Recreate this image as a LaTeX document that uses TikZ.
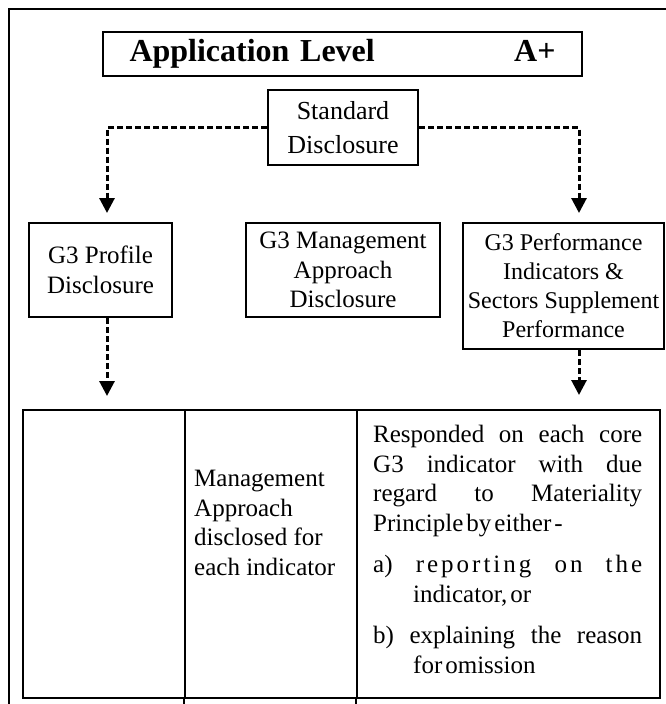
\documentclass[tikz,border=0pt]{standalone}
\usepackage{fontspec}
\setmainfont{Liberation Serif}
\usetikzlibrary{arrows.meta}
\newcommand\titlefnt{\fontsize{32}{36}\selectfont\bfseries}
\newcommand\boxfnt{\fontsize{25}{29.5}\selectfont}
\newcommand\stdfnt{\fontsize{26}{34}\selectfont}
\newcommand\perffnt{\fontsize{24}{29}\selectfont}
\newcommand\tabfnt{\fontsize{25}{29.5}\selectfont}
\newcommand\lsp[1]{{\addfontfeature{LetterSpace=12}#1}}
\tikzset{
  box/.style={draw, line width=2pt, inner sep=0pt, align=center},
  cell/.style={draw, line width=2pt, inner sep=0pt},
  frame/.style={line width=2pt},
  dashconn/.style={line width=3pt, dash pattern=on 6pt off 3pt,
    -{Triangle[width=15pt,length=15pt]}},
  celltext/.style={anchor=north west, inner sep=0pt, align=left, font=\tabfnt},
}
\begin{document}
\begin{tikzpicture}[x=1pt,y=-1pt]
\useasboundingbox (0,0) rectangle (665,704);
% outer frame (cropped at right and bottom)
\draw[frame] (9,710) -- (9,9) -- (670,9);

\node[box, line width=2.5pt, minimum width=479pt, minimum height=44pt,
      text width=426pt, align=left, font=\titlefnt] (title) at (342.5,54)
      {Application Level\hfill A+};

\node[box, minimum width=150pt, minimum height=75pt, font=\stdfnt] (std) at (343,127.5)
      {Standard\\Disclosure};

\node[box, minimum width=143pt, minimum height=94pt, font=\boxfnt] (prof) at (100.5,270)
      {G3 Profile\\Disclosure};
\node[box, minimum width=194pt, minimum height=94pt, font=\boxfnt] (mgmt) at (343,270)
      {G3 Management\\Approach\\Disclosure};
\node[box, minimum width=201pt, minimum height=126pt, font=\perffnt] (perf) at (563.5,286)
      {G3 Performance\\Indicators \&\\Sectors Supplement\\Performance};

% table cells
\node[cell, minimum width=162pt, minimum height=288pt] (cellA) at (104,554) {};
\node[cell, minimum width=172pt, minimum height=288pt] (cellB) at (271,554) {};
\node[cell, minimum width=303pt, minimum height=288pt] (cellC) at (508.5,554) {};
\draw[frame] (cellB.south west) -- ++(0,12);
\draw[frame] (cellC.south west) -- ++(0,12);

\node[celltext] (mtext) at (194,470)
  {Management\\Approach\\disclosed for\\each indicator};

\node[celltext] (rtext) at (373,425) {%
  \hbox to 269pt{Responded\hfill on\hfill each\hfill core}\\
  \hbox to 269pt{G3\hfill indicator\hfill with\hfill due}\\
  \hbox to 269pt{regard\hfill to\hfill Materiality}\\
  Principle\hspace{3pt}by\hspace{3pt}either\hspace{3pt}-\\[12pt]
  \hbox to 269pt{a)\hfill\lsp{reporting}\hfill\lsp{on}\hfill\lsp{the}}\\
  \hspace*{40pt}indicator,\hspace{3pt}or\\[12pt]
  \hbox to 269pt{b)\hfill explaining\hfill the\hfill reason}\\
  \hspace*{40pt}for\hspace{3pt}omission};

% connectors
\coordinate (ltip) at (107,213);
\coordinate (rtip) at (579,213);
\coordinate (ptip) at (107,396);
\coordinate (qtip) at (579,395);
\draw[dashconn] (std.west) -| (ltip);
\draw[dashconn] (std.east) -| (rtip);
\draw[dashconn] (ptip |- prof.south) -- (ptip);
\draw[dashconn] (qtip |- perf.south) -- (qtip);
\end{tikzpicture}
\end{document}
